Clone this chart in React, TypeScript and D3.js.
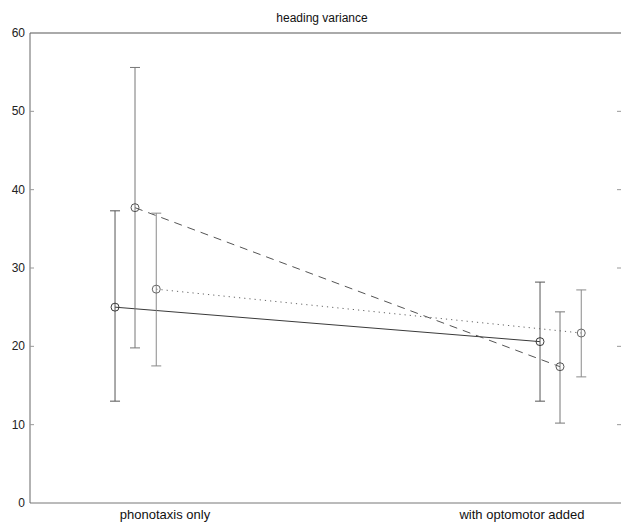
import React from "react";
import * as d3 from "d3";

const categories = ["phonotaxis only", "with optomotor added"];
const seriesNames = ["solid", "dashed", "dotted"];
const means = [
  [25.0, 20.6],
  [37.7, 17.4],
  [27.3, 21.7],
];
const upper = [
  [37.3, 28.2],
  [55.6, 24.4],
  [37.0, 27.2],
];
const lower = [
  [13.0, 13.0],
  [19.8, 10.2],
  [17.5, 16.1],
];
const yTicks = [0, 10, 20, 30, 40, 50, 60];

const W = 621;
const H = 525;
const left = 30;
const right = 621;
const top = 33;
const bottom = 503;

const lineColors = ["#3a3a3a", "#555555", "#666666"];
const barColors = ["#555555", "#777777", "#8a8a8a"];
const dashes = ["", "8,6", "1.2,4"];
const offsets = [-0.047, 0, 0.05];
const labelPos = [1.0706, 1.9106];

export default function App() {
  const y = d3.scaleLinear().domain([0, 60]).range([bottom, top]);
  const x = d3.scaleLinear().domain([1, 2]).range([135, 560]);
  const font = "'Liberation Sans', Arial, sans-serif";
  const line = d3
    .line<[number, number]>()
    .x((d) => d[0])
    .y((d) => d[1]);

  return (
    <svg
      width={W}
      height={H}
      style={{ position: "absolute", left: 0, top: 0, background: "#fff" }}
      fontFamily={font}
    >
      <rect x={0} y={0} width={W} height={H} fill="#fff" />
      {/* title */}
      <text x={322} y={22} fontSize={12} textAnchor="middle" fill="#111">
        heading variance
      </text>
      {/* axes frame */}
      <line x1={left} x2={right} y1={top} y2={top} stroke="#aaa" strokeWidth={2} />
      <line x1={left} x2={right} y1={bottom} y2={bottom} stroke="#777" strokeWidth={1} />
      <line x1={left} x2={left} y1={top} y2={bottom} stroke="#666" strokeWidth={1} />
      {yTicks.map((t) => (
        <g key={t}>
          {t > 0 && t < 60 && (
            <>
              <line x1={left} x2={left + 4} y1={y(t)} y2={y(t)} stroke="#999" />
              <line x1={right - 4} x2={right} y1={y(t)} y2={y(t)} stroke="#999" />
            </>
          )}
          <text x={left - 5} y={y(t) + 4} fontSize={12} textAnchor="end" fill="#222">
            {t}
          </text>
        </g>
      ))}
      {categories.map((c, i) => (
        <text key={c} x={x(labelPos[i])} y={519} fontSize={13} textAnchor="middle" fill="#111">
          {c}
        </text>
      ))}
      {/* series */}
      {seriesNames.map((s, si) => {
        const pts: [number, number][] = means[si].map((m, ci) => [x(ci + 1 + offsets[si]), y(m)]);
        return (
          <g key={s}>
            <path
              d={line(pts) || ""}
              fill="none"
              stroke={lineColors[si]}
              strokeWidth={1}
              strokeDasharray={dashes[si]}
            />
            {pts.map((p, ci) => (
              <g key={ci}>
                <line x1={p[0]} x2={p[0]} y1={y(upper[si][ci])} y2={y(lower[si][ci])} stroke={barColors[si]} />
                <line x1={p[0] - 5} x2={p[0] + 5} y1={y(upper[si][ci])} y2={y(upper[si][ci])} stroke={barColors[si]} />
                <line x1={p[0] - 5} x2={p[0] + 5} y1={y(lower[si][ci])} y2={y(lower[si][ci])} stroke={barColors[si]} />
                <circle cx={p[0]} cy={p[1]} r={4} fill="none" stroke={lineColors[si]} strokeWidth={1} />
              </g>
            ))}
          </g>
        );
      })}
    </svg>
  );
}
